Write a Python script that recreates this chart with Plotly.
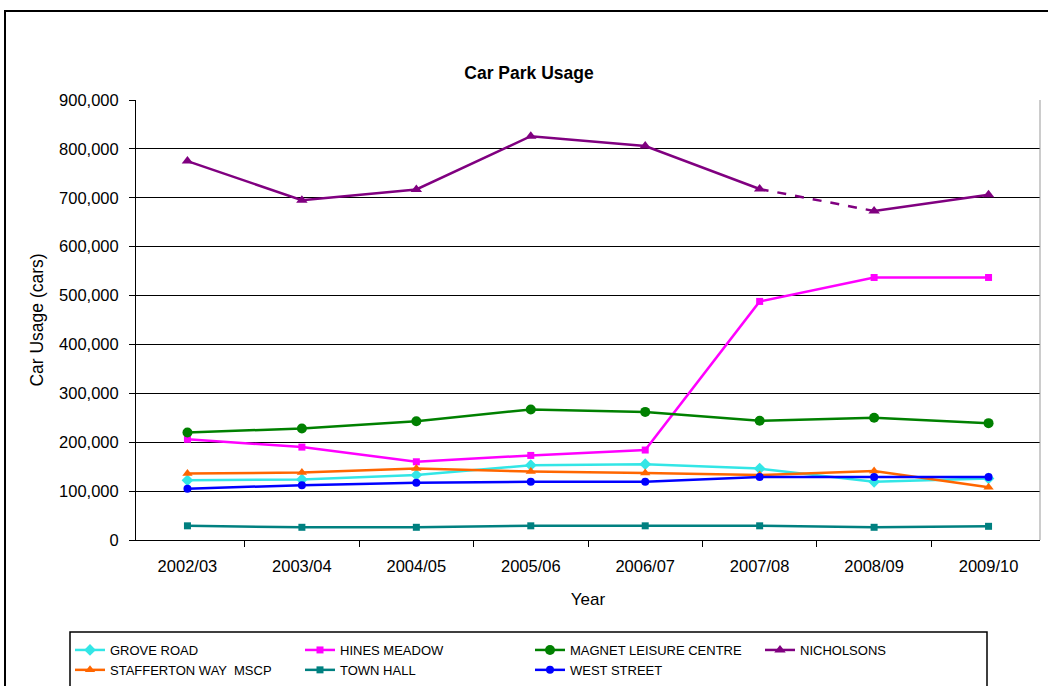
import plotly.graph_objects as go

# Financial years on the category axis
years = ["2002/03", "2003/04", "2004/05", "2005/06",
         "2006/07", "2007/08", "2008/09", "2009/10"]

# Annual usage per car park (cars)
grove_road = [122000, 124000, 133000, 153000, 155000, 146000, 119000, 126000]
hines_meadow = [206000, 190000, 160000, 173000, 184000, 488000, 537000, 537000]
magnet_leisure = [220000, 228000, 243000, 267000, 262000, 244000, 250000, 239000]
nicholsons = [775000, 695000, 717000, 826000, 806000, 718000, 673000, 706000]
stafferton_way = [136000, 138000, 146000, 140000, 137000, 133000, 141000, 108000]
town_hall = [29000, 26000, 26000, 29000, 29000, 29000, 26000, 28000]
west_street = [105000, 112000, 117000, 119000, 119000, 129000, 129000, 129000]

# Nicholsons segment drawn dashed (between these two years)
nicholsons_dashed = ("2007/08", "2008/09")

series = [
    ("GROVE ROAD", grove_road, "#33E6E6", "diamond", 9),
    ("HINES MEADOW", hines_meadow, "#FF00FF", "square", 7),
    ("MAGNET LEISURE CENTRE", magnet_leisure, "#008000", "circle", 10),
    ("NICHOLSONS", nicholsons, "#800080", "triangle-up", 10),
    ("STAFFERTON WAY  MSCP", stafferton_way, "#FF6600", "triangle-up", 9),
    ("TOWN HALL", town_hall, "#008080", "square", 7),
    ("WEST STREET", west_street, "#0000FF", "circle", 8),
]

fig = go.Figure()

for name, vals, color, symbol, size in series:
    marker = dict(symbol=symbol, size=size, color=color)
    line = dict(color=color, width=2.5)
    if name == "NICHOLSONS":
        i0 = years.index(nicholsons_dashed[0])
        i1 = years.index(nicholsons_dashed[1])
        fig.add_trace(go.Scatter(x=years[:i0 + 1], y=vals[:i0 + 1], name=name,
                                 mode="lines+markers", line=line, marker=marker,
                                 legendgroup=name))
        fig.add_trace(go.Scatter(x=years[i0:i1 + 1], y=vals[i0:i1 + 1], name=name,
                                 mode="lines", line=dict(color=color, width=2.5, dash="dash"),
                                 legendgroup=name, showlegend=False))
        fig.add_trace(go.Scatter(x=years[i1:], y=vals[i1:], name=name,
                                 mode="lines+markers", line=line, marker=marker,
                                 legendgroup=name, showlegend=False))
    else:
        fig.add_trace(go.Scatter(x=years, y=vals, name=name, mode="lines+markers",
                                 line=line, marker=marker))

# Plot area geometry in pixels
W, H = 1048, 686
L, R, T, B = 136, 8, 100, 146
pw, ph = W - L - R, H - T - B


def px_x(x):
    return (x - L) / pw


def px_y(y):
    return (H - B - y) / ph


shapes = [
    # outer chart frame
    dict(type="rect", xref="paper", yref="paper",
         x0=px_x(5), x1=px_x(1052), y0=px_y(692), y1=px_y(11),
         line=dict(color="black", width=2), layer="below"),
    # legend frame
    dict(type="rect", xref="paper", yref="paper",
         x0=px_x(70), x1=px_x(987), y0=px_y(690), y1=px_y(632),
         line=dict(color="black", width=1.5), layer="below"),
    # right edge of plot area
    dict(type="line", xref="paper", yref="paper", x0=1, x1=1, y0=0, y1=1,
         line=dict(color="#999999", width=1)),
]

fig.update_layout(
    width=W, height=H,
    margin=dict(l=L, r=R, t=T, b=B, autoexpand=False),
    paper_bgcolor="white", plot_bgcolor="white",
    font=dict(family="Liberation Sans, Arial, sans-serif", size=16, color="black"),
    title=dict(text="<b>Car Park Usage</b>", x=529 / W, xanchor="center",
               y=1 - 73 / H, yanchor="middle",
               font=dict(size=17.5, color="black")),
    showlegend=True,
    legend=dict(orientation="h", x=px_x(70), xanchor="left",
                y=px_y(635), yanchor="top",
                font=dict(size=13, color="black"),
                entrywidth=185, entrywidthmode="pixels",
                tracegroupgap=0, itemwidth=30,
                bgcolor="rgba(0,0,0,0)", borderwidth=0),
    shapes=shapes,
)

fig.update_xaxes(
    type="category", categoryorder="array", categoryarray=years,
    showline=True, linecolor="black", linewidth=1,
    ticks="outside", tickson="boundaries", ticklen=6, tickcolor="black",
    showgrid=False, tickfont=dict(size=16.5), ticklabelstandoff=11,
    title=dict(text="Year", font=dict(size=17), standoff=19),
)

fig.update_yaxes(
    range=[0, 900000], dtick=100000, tickformat=",",
    showline=True, linecolor="black", linewidth=1,
    ticks="outside", ticklen=6, tickcolor="black",
    showgrid=True, gridcolor="black", gridwidth=1,
    zeroline=False, tickfont=dict(size=16.5), ticklabelstandoff=7,
    title=dict(text="Car Usage (cars)", font=dict(size=17.5), standoff=10),
)

fig.write_html("out.html")
